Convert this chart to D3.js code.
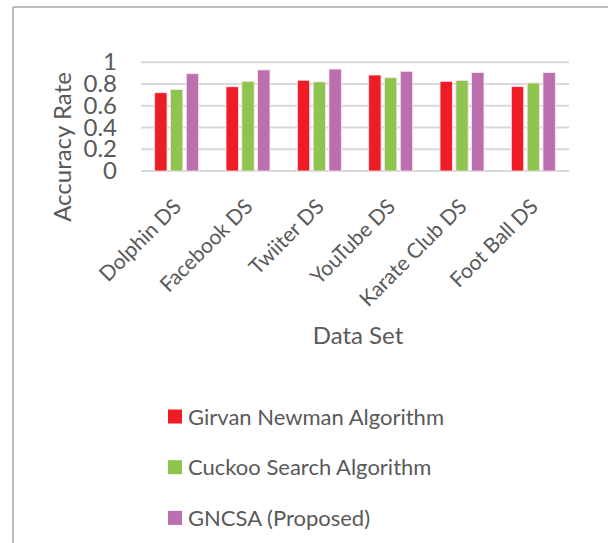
<!DOCTYPE html>
<html>
<head>
<meta charset="utf-8">
<script src="https://cdn.jsdelivr.net/npm/d3@7"></script>
<style>
  body { margin: 0; background: #fff; }
  svg { display: block; }
  text { font-family: Lato, "Open Sans", sans-serif; fill: #595959; }
</style>
</head>
<body>
<svg id="chart" width="608" height="543"></svg>
<script>
// data
const categories = ["Dolphin DS", "Facebook DS", "Twiiter DS", "YouTube DS", "Karate Club DS", "Foot Ball DS"];
const seriesNames = ["Girvan Newman Algorithm", "Cuckoo Search Algorithm", "GNCSA (Proposed)"];
const girvanNewman = [0.72, 0.775, 0.835, 0.883, 0.825, 0.776];
const cuckooSearch = [0.75, 0.825, 0.82, 0.858, 0.834, 0.81];
const gncsa = [0.895, 0.93, 0.938, 0.917, 0.905, 0.905];
const yTicks = [0, 0.2, 0.4, 0.6, 0.8, 1];
const colors = ["#ee1c25", "#8fc54e", "#bb6fae"];

const values = [girvanNewman, cuckooSearch, gncsa];

const svg = d3.select("#chart");

// outer frame (only top + left visible in the original)
svg.append("line").attr("x1", 13).attr("x2", 608).attr("y1", 7).attr("y2", 7)
  .attr("stroke", "#a6a6a6").attr("stroke-width", 1.5);
svg.append("line").attr("x1", 13).attr("x2", 13).attr("y1", 7).attr("y2", 543)
  .attr("stroke", "#a6a6a6").attr("stroke-width", 1.5);

const x = d3.scaleBand().domain(categories).range([141, 569]).paddingInner(0.384).paddingOuter(0.192);
const xs = d3.scaleBand().domain(d3.range(3)).range([0, x.bandwidth()]).paddingInner(0.22);
const y = d3.scaleLinear().domain([0, 1]).range([171, 62.3]);

// gridlines
svg.append("g").selectAll("line").data(yTicks).join("line")
  .attr("x1", 141).attr("x2", 569)
  .attr("y1", d => y(d)).attr("y2", d => y(d))
  .attr("stroke", "#d9d9d9").attr("stroke-width", 2);

// y axis labels
const yAxis = svg.append("g").attr("transform", "translate(127,0)")
  .call(d3.axisLeft(y).tickValues(yTicks).tickSize(0).tickPadding(10).tickFormat(d3.format("~g")));
yAxis.select(".domain").remove();
yAxis.selectAll("text").attr("font-size", 24).attr("font-family", "Lato, sans-serif").attr("fill", "#595959");

// bars
const groups = svg.append("g").selectAll("g").data(categories).join("g")
  .attr("transform", d => `translate(${x(d)},0)`);
groups.selectAll("rect").data((d, i) => values.map((s, k) => ({ k, v: s[i] }))).join("rect")
  .attr("x", d => xs(d.k))
  .attr("width", xs.bandwidth())
  .attr("y", d => y(d.v))
  .attr("height", d => y(0) - y(d.v))
  .attr("fill", d => colors[d.k])
  .attr("stroke", "#fbe5f0").attr("stroke-width", 0.8);

// x labels, rotated
svg.append("g").selectAll("text").data(categories).join("text")
  .attr("transform", d => `translate(${x(d) + x.bandwidth() / 2 + 6},${208}) rotate(-45)`)
  .attr("text-anchor", "end")
  .attr("font-size", 21)
  .text(d => d);

// axis titles
svg.append("text")
  .attr("transform", "translate(71,147) rotate(-90)")
  .attr("text-anchor", "middle")
  .attr("font-size", 24)
  .text("Accuracy Rate");

svg.append("text")
  .attr("x", 358).attr("y", 344)
  .attr("text-anchor", "middle")
  .attr("font-size", 24)
  .text("Data Set");

// legend
const legend = svg.append("g").selectAll("g").data(seriesNames).join("g")
  .attr("transform", (d, i) => `translate(168,${416.5 + i * 50.7})`);
legend.append("rect").attr("x", 0).attr("y", -7).attr("width", 14).attr("height", 14)
  .attr("fill", (d, i) => colors[i]);
legend.append("text").attr("x", 20).attr("y", 8).attr("font-size", 22).text(d => d);
</script>
</body>
</html>
